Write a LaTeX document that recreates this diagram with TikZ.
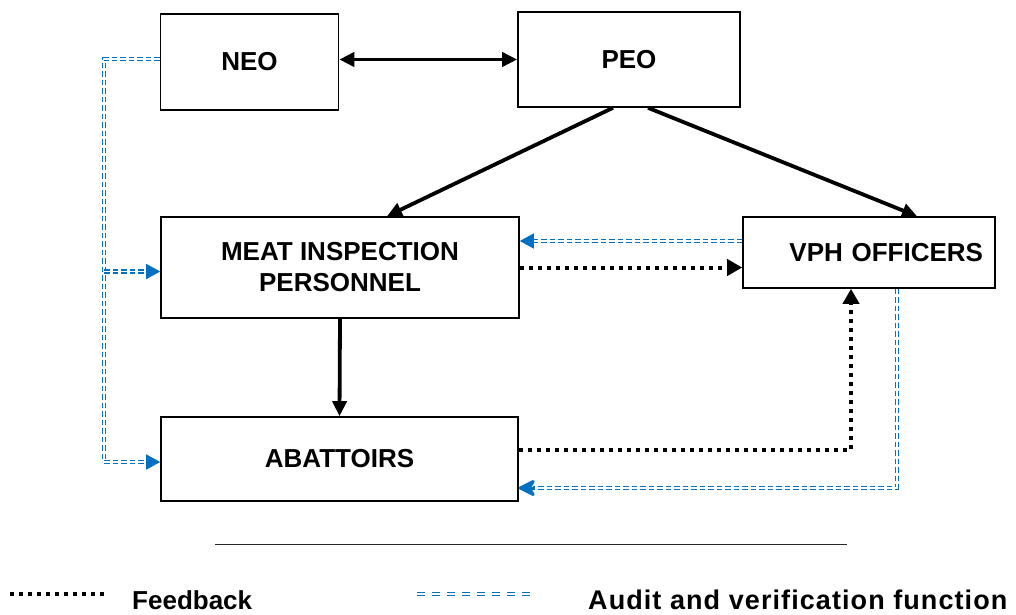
\documentclass[tikz,border=0pt]{standalone}
\usepackage{fontspec}
\setmainfont{Liberation Sans}
\usetikzlibrary{arrows.meta}
\definecolor{audblue}{HTML}{0070C0}
\begin{document}
\begin{tikzpicture}[x=1pt,y=-1pt,
  box/.style={draw, line width=1.6pt, rectangle, inner sep=0pt, font=\fontsize{26}{31}\selectfont\bfseries, align=center},
  solidarrow/.style={line width=3.8pt, -{Triangle[length=15pt,width=14pt]}},
  fbarrow/.style={line width=4pt, dash pattern=on 4pt off 5pt, -{Triangle[length=15pt,width=16pt]}},
  aud/.style={draw=audblue, double=white, double distance=1.6pt, line width=1.6pt, dash pattern=on 5.5pt off 3pt},
  audtip/.style={-{Triangle[length=14pt,width=15pt]}},
  audhead/.style={draw=audblue, line width=3pt, -{Stealth[length=20pt,width=20pt,inset=6pt,round,fill=audblue]}},
  leg/.style={font=\fontsize{26}{31}\selectfont\bfseries, anchor=west, inner sep=0pt}
]
\useasboundingbox (0,0) rectangle (1016,614);

\node[box, minimum width=178pt, minimum height=96pt] (neo) at (249.5,62) {NEO};
\node[box, minimum width=222pt, minimum height=95pt] (peo) at (629,59.5) {PEO};
\node[box, minimum width=358pt, minimum height=101pt] (meat) at (340,267.5) {MEAT INSPECTION\\PERSONNEL};
\node[box, minimum width=252pt, minimum height=71pt, text width=228pt, inner xsep=12pt, align=right] (vph) at (869,252.5) {VPH OFFICERS};
\node[box, minimum width=357pt, minimum height=84pt] (abat) at (339.5,459) {ABATTOIRS};

% solid arrows
\draw[line width=3.8pt, {Triangle[length=15pt,width=14pt]}-{Triangle[length=15pt,width=14pt]}] (peo.west -| neo.east) -- (peo.west);
\draw[solidarrow] ([xshift=-16pt]peo.south) -- ([xshift=47pt]meat.north);
\draw[solidarrow] ([xshift=19pt]peo.south) -- ([xshift=48pt]vph.north);
\draw[solidarrow] (meat.south) -- (abat.north);

% feedback
\draw[fbarrow] (meat.east) -- (meat.east -| vph.west);
\draw[fbarrow] ([yshift=9pt]abat.east) -| ([xshift=-18pt]vph.south);

% audit
\coordinate (vw) at ([yshift=11.5pt]vph.west);
\draw[aud, audtip] (vw) -- (vw -| meat.east);
\coordinate (ae) at ([yshift=-29pt]abat.east);
\draw[aud, shorten >=14pt] ([xshift=28pt]vph.south) |- (ae);
\draw[audhead] ([xshift=16pt]ae) -- (ae);
\coordinate (jt) at (104,59);
\coordinate (jb) at (104,462);
\draw[aud, audtip] ([yshift=3pt]neo.west) -- (jt) -- (jb) -- ([yshift=-3pt]abat.west);
\coordinate (mw) at ([yshift=-4pt]meat.west);
\draw[aud, audtip] (mw -| jt) -- (mw);

% separator
\coordinate (s1) at (215,544);
\coordinate (s2) at (847,544);
\draw[line width=0.8pt, black!85] (s1) -- (s2);

% legend
\coordinate (fa) at (10,594);
\coordinate (fz) at (107,594);
\draw[line width=3.5pt, dash pattern=on 3.5pt off 5.5pt] (fa) -- (fz);
\node[leg] (fbtxt) at (132,600) {Feedback};
\coordinate (aa) at (417,594);
\coordinate (az) at (530,594);
\draw[aud, dash pattern=on 8pt off 7pt] (aa) -- (az);
\node[leg, font=\fontsize{27}{31}\selectfont\bfseries\addfontfeatures{LetterSpace=4}] (audtxt) at (588,600) {Audit and verification function};
\end{tikzpicture}
\end{document}
